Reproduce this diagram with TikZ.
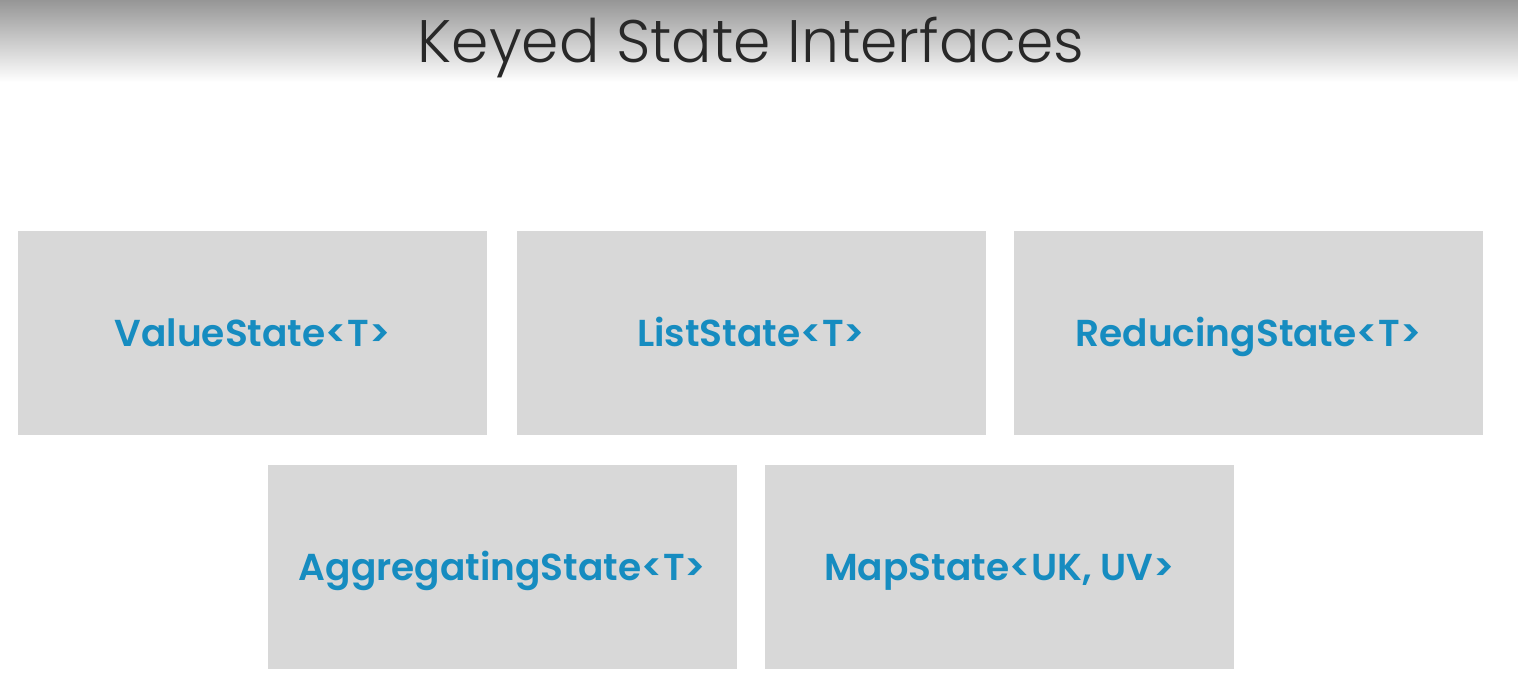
\documentclass[tikz,border=0pt]{standalone}
\usepackage{fontspec}
\setmainfont{Poppins}
\newfontfamily\titlefont{Poppins Light}
\newfontfamily\labelfont{Poppins SemiBold}
\usetikzlibrary{positioning}
\definecolor{boxgray}{RGB}{216,216,216}
\definecolor{labelblue}{RGB}{22,140,192}
\definecolor{titlegray}{RGB}{40,40,40}
\definecolor{topgray}{RGB}{150,150,150}
\begin{document}
\begin{tikzpicture}[x=1pt,y=-1pt,
  statebox/.style={fill=boxgray, draw=none, minimum width=469pt, minimum height=204pt, inner sep=0pt,
    text height=27pt, text depth=0pt,
    font=\labelfont\fontsize{37.5}{42}\selectfont, text=labelblue}]
\useasboundingbox (0,0) rectangle (1518,700);
\fill[white] (0,0) rectangle (1518,700);
\shade[top color=topgray, bottom color=white] (0,0) rectangle (1518,82);
\node[font=\titlefont\fontsize{60}{70}\selectfont, text=titlegray] (title) at (751,48) {Keyed State Interfaces};
\node[statebox] (value) at (252.5,333) {ValueState<T>};
\node[statebox] (list) at (751,333) {ListState<T>};
\node[statebox] (reducing) at (1248.5,333) {ReducingState<T>};
\node[statebox] (aggregating) at (502.5,566.5) {AggregatingState<T>};
\node[statebox] (map) at (999.5,566.5) {MapState<UK, UV>};
\end{tikzpicture}
\end{document}
